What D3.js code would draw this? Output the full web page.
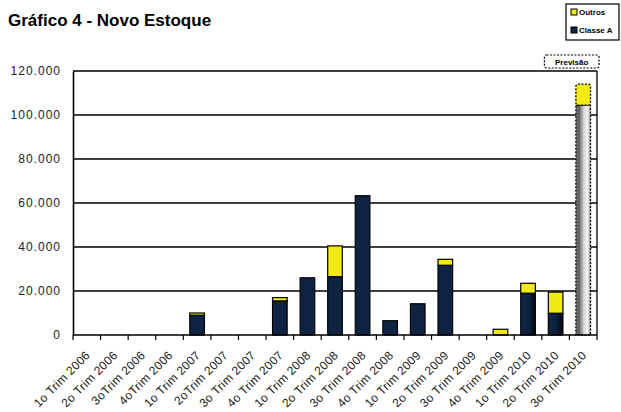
<!DOCTYPE html>
<html>
<head>
<meta charset="utf-8">
<script src="https://cdn.jsdelivr.net/npm/d3@7/dist/d3.min.js"></script>
<style>
  html, body { margin: 0; padding: 0; background: #fff; }
  svg { display: block; font-family: "Liberation Sans", Arial, sans-serif; }
</style>
</head>
<body>
<svg id="chart" width="621" height="412"></svg>
<script>
// Quarterly categories
const categories = [
  "1o Trim 2006", "2o Trim 2006", "3oTrim 2006", "4oTrim 2006",
  "1o Trim 2007", "2oTrim 2007", "3o Trim 2007", "4o Trim 2007",
  "1o Trim 2008", "2o Trim 2008", "3o Trim 2008", "4o Trim 2008",
  "1o Trim 2009", "2o Trim 2009", "3o Trim 2009", "4o Trim 2009",
  "1o Trim 2010", "2o Trim 2010", "3o Trim 2010"
];
// New stock, units per quarter
const classeA = [0, 0, 0, 0, 9000, 0, 0, 15500, 26000, 26500, 63300, 6500, 14200, 31700, 0, 0, 19000, 9900, 104500];
const outros  = [0, 0, 0, 0, 1000, 0, 0, 1500, 0, 14000, 0, 0, 0, 2700, 0, 2600, 4500, 9600, 9500];
const yTicks = [0, 20000, 40000, 60000, 80000, 100000, 120000];
const forecastIndex = 18;

const svg = d3.select("#chart");
const margin = { left: 73, right: 24, top: 71, bottom: 77 };
const W = 621, H = 412;

const x = d3.scaleBand().domain(categories).range([margin.left, W - margin.right]).paddingInner(0.47).paddingOuter(0.235);
const xb = d3.scaleBand().domain(categories).range([margin.left, W - margin.right]);
const y = d3.scaleLinear().domain([0, 120000]).range([H - margin.bottom, margin.top]);

const fmt = v => d3.format(",")(v).replace(/,/g, ".");

// Gradients
const defs = svg.append("defs");
const g1 = defs.append("linearGradient").attr("id", "silver").attr("x1", "0").attr("x2", "1").attr("y1", "0").attr("y2", "0");
[["0%", "#7a7a7a"], ["20%", "#5a5a5a"], ["55%", "#d8d8d8"], ["80%", "#f4f4f4"], ["100%", "#9a9a9a"]]
  .forEach(([o, c]) => g1.append("stop").attr("offset", o).attr("stop-color", c));
const g2 = defs.append("linearGradient").attr("id", "navy").attr("x1", "0").attr("x2", "1").attr("y1", "0").attr("y2", "0");
[["0%", "#10284a"], ["60%", "#0c1f38"], ["100%", "#02060c"]]
  .forEach(([o, c]) => g2.append("stop").attr("offset", o).attr("stop-color", c));

// Title
svg.append("text").attr("x", 8).attr("y", 26).attr("font-size", 17).attr("font-weight", "bold")
  .text("Gráfico 4 - Novo Estoque");

// Gridlines
svg.append("g").selectAll("line").data(yTicks.filter(d => d > 0)).join("line")
  .attr("x1", margin.left).attr("x2", W - margin.right)
  .attr("y1", d => y(d)).attr("y2", d => y(d))
  .attr("stroke", "#000").attr("stroke-width", 1.3);

// Right border
svg.append("line").attr("x1", W - margin.right).attr("x2", W - margin.right)
  .attr("y1", y(120000)).attr("y2", y(0)).attr("stroke", "#000").attr("stroke-width", 1.3);

// Y axis
const yAxis = svg.append("g").attr("transform", `translate(${margin.left},0)`)
  .call(d3.axisLeft(y).tickValues(yTicks).tickFormat(fmt).tickSize(0).tickPadding(12));
yAxis.select(".domain").attr("stroke-width", 1.6);
yAxis.selectAll("text").attr("font-size", 12).attr("letter-spacing", 1).attr("fill", "#222")
  .attr("font-family", "Liberation Sans, Arial, sans-serif");

// Bars
const gb = svg.append("g");
categories.forEach((c, i) => {
  const x0 = x(c), bw = x.bandwidth();
  const isF = i === forecastIndex;
  if (classeA[i] > 0) {
    gb.append("rect").attr("x", x0).attr("width", bw)
      .attr("y", y(classeA[i])).attr("height", y(0) - y(classeA[i]))
      .attr("fill", isF ? "url(#silver)" : (i >= 16 ? "url(#navy)" : "#0f2442"))
      .attr("stroke", "#000").attr("stroke-width", isF ? 1.3 : 1.2)
      .attr("stroke-dasharray", isF ? "2,1.5" : null);
  }
  if (outros[i] > 0) {
    gb.append("rect").attr("x", x0).attr("width", bw)
      .attr("y", y(classeA[i] + outros[i])).attr("height", y(classeA[i]) - y(classeA[i] + outros[i]))
      .attr("rx", isF ? 2 : 0)
      .attr("fill", "#f2ea17")
      .attr("stroke", "#000").attr("stroke-width", isF ? 1.3 : 1.2)
      .attr("stroke-dasharray", isF ? "2,1.5" : null);
  }
});

// X axis
const xAxis = svg.append("g").attr("transform", `translate(0,${y(0)})`);
xAxis.append("line").attr("x1", margin.left).attr("x2", W - margin.right).attr("stroke", "#000").attr("stroke-width", 1.6);
xAxis.selectAll("line.tk").data(categories.concat(["end"])).join("line").attr("class", "tk")
  .attr("x1", (d, i) => i < categories.length ? xb(d) : W - margin.right)
  .attr("x2", (d, i) => i < categories.length ? xb(d) : W - margin.right)
  .attr("y1", 0).attr("y2", 5).attr("stroke", "#000").attr("stroke-width", 1.2);
xAxis.selectAll("text").data(categories).join("text")
  .attr("transform", d => `translate(${xb(d) + xb.bandwidth() / 2 + 4},${21}) rotate(-45)`)
  .attr("text-anchor", "end").attr("font-size", 12).attr("letter-spacing", 0.3).attr("fill", "#222")
  .text(d => d);

// Forecast label
const fx0 = xb(categories[forecastIndex]) - 25, fx1 = W - margin.right + 2;
svg.append("rect").attr("x", fx0).attr("y", 55).attr("width", fx1 - fx0).attr("height", 13)
  .attr("rx", 2).attr("fill", "#fff").attr("stroke", "#000").attr("stroke-width", 1.2).attr("stroke-dasharray", "2,1.5");
svg.append("text").attr("x", (fx0 + fx1) / 2).attr("y", 65).attr("text-anchor", "middle")
  .attr("font-size", 8).attr("font-weight", "bold").text("Previsão");

// Legend
const lg = svg.append("g");
lg.append("rect").attr("x", 566).attr("y", 4).attr("width", 53).attr("height", 36)
  .attr("fill", "#fff").attr("stroke", "#000").attr("stroke-width", 1.2);
const legendItems = [["Outros", "#f2ea17"], ["Classe A", "#0f2442"]];
legendItems.forEach(([name, col], i) => {
  const yy = 12 + i * 18;
  lg.append("rect").attr("x", 571).attr("y", yy - 3).attr("width", 6).attr("height", 6)
    .attr("fill", col).attr("stroke", "#000").attr("stroke-width", 1);
  lg.append("text").attr("x", 579).attr("y", yy + 3).attr("font-size", 8).attr("font-weight", "bold").text(name);
});
</script>
</body>
</html>
